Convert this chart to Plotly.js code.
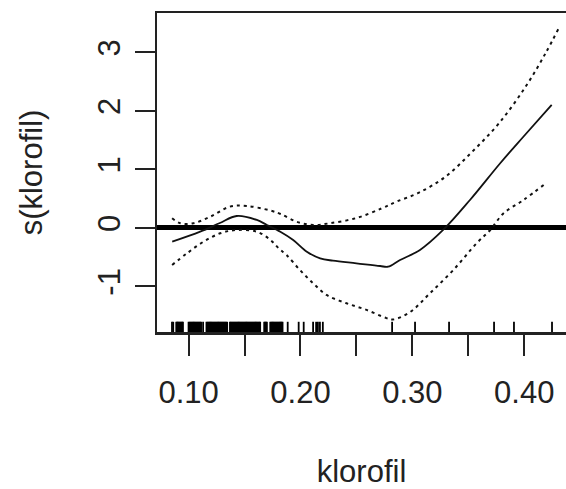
<!DOCTYPE html>
<html>
<head>
<meta charset="utf-8">
<script src="https://cdn.plot.ly/plotly-3.0.1.min.js"></script>
<style>html,body{margin:0;padding:0;background:#fff;overflow:hidden}#chart{width:566px;height:489px}</style>
</head>
<body>
<div id="chart"></div>
<script>
// Fitted smooth s(klorofil)
var fitX = [0.0854, 0.1104, 0.128, 0.143, 0.161, 0.170, 0.182, 0.1935, 0.2057, 0.2176, 0.229, 0.250, 0.2712, 0.2783, 0.289, 0.3068, 0.3275, 0.3515, 0.3783, 0.3986, 0.4245];
var fitY = [-0.234, -0.063, 0.085, 0.205, 0.137, 0.051, -0.063, -0.205, -0.405, -0.518, -0.559, -0.604, -0.650, -0.662, -0.547, -0.376, -0.034, 0.479, 1.103, 1.547, 2.103];
// Upper confidence band
var upX = [0.0853, 0.0927, 0.104, 0.1195, 0.137, 0.152, 0.1735, 0.1822, 0.1965, 0.2113, 0.226, 0.250, 0.2727, 0.2858, 0.3055, 0.3296, 0.3533, 0.3774, 0.4012, 0.4191, 0.4307];
var upY = [0.165, 0.080, 0.080, 0.194, 0.365, 0.376, 0.296, 0.239, 0.108, 0.051, 0.080, 0.170, 0.336, 0.450, 0.600, 0.877, 1.300, 1.790, 2.415, 2.990, 3.410];
// Lower confidence band
var loX = [0.0853, 0.0986, 0.1134, 0.1283, 0.1432, 0.161, 0.1732, 0.1806, 0.1875, 0.1995, 0.2114, 0.2233, 0.2412, 0.259, 0.2768, 0.2827, 0.2978, 0.3157, 0.3366, 0.3574, 0.3696, 0.3815, 0.3994, 0.4173];
var loY = [-0.632, -0.433, -0.234, -0.091, -0.034, -0.063, -0.205, -0.348, -0.460, -0.718, -0.946, -1.145, -1.287, -1.400, -1.540, -1.565, -1.440, -1.116, -0.718, -0.262, -0.034, 0.251, 0.479, 0.735];
// Rug: observed klorofil values
var rugX = [0.0852, 0.0863, 0.089, 0.0897, 0.0905, 0.0912, 0.092, 0.0927, 0.0935, 0.0942, 0.095,
  0.1000, 0.1008, 0.1016, 0.1024, 0.1032, 0.104, 0.1048, 0.1056, 0.1064, 0.1072, 0.108, 0.1088, 0.1096, 0.1104, 0.1112, 0.113,
  0.116, 0.1168, 0.1176, 0.1184, 0.1192, 0.12, 0.1208, 0.1216, 0.1224, 0.1232, 0.124, 0.1248, 0.1256, 0.1264, 0.1272, 0.128, 0.1288, 0.1296, 0.1304, 0.1312, 0.132, 0.1328, 0.1336, 0.1345,
  0.137, 0.1378, 0.1386, 0.1394, 0.1402, 0.141, 0.1418, 0.1426, 0.1434, 0.1442, 0.145, 0.1458, 0.1466, 0.1474, 0.1482, 0.149, 0.1498, 0.1506, 0.1514, 0.1522, 0.153, 0.1538, 0.1546, 0.1554, 0.1562, 0.157, 0.1578, 0.1586, 0.1594, 0.1602, 0.161, 0.1618, 0.1626, 0.1634, 0.164,
  0.1676, 0.1684, 0.1692, 0.170,
  0.173, 0.1738, 0.1746, 0.1754, 0.1762, 0.177, 0.1778, 0.1786, 0.1794, 0.1802, 0.181, 0.1818, 0.1826, 0.1834, 0.184,
  0.1886, 0.1984, 0.2029, 0.2113, 0.214, 0.2156, 0.2174, 0.220,
  0.2819, 0.3024, 0.3328, 0.3730, 0.3908, 0.4248];
var xTickVals = [0.10, 0.15, 0.20, 0.25, 0.30, 0.35, 0.40];
var xTickText = ['0.10', '', '0.20', '', '0.30', '', '0.40'];
var yTickVals = [-1, 0, 1, 2, 3];
var yTickText = ['-1', '0', '1', '2', '3'];
var xRange = [0.0718, 0.4373];
var yRange = [-1.778, 3.675];
var rugFrac = 0.032;

var rugXs = [], rugYs = [];
var rugTop = yRange[0] + (yRange[1] - yRange[0]) * rugFrac;
rugX.forEach(function (v) { rugXs.push(v, v, null); rugYs.push(yRange[0], rugTop, null); });

var FONT = '"Liberation Sans", Arial, sans-serif';
var FS = 31;
var traces = [
  {x: rugXs, y: rugYs, mode: 'lines', line: {color: '#000', width: 1.8}, hoverinfo: 'skip'},
  {x: upX, y: upY, mode: 'lines', line: {color: '#111', width: 2, dash: '3px,4px', shape: 'spline'}},
  {x: loX, y: loY, mode: 'lines', line: {color: '#111', width: 2, dash: '3px,4px', shape: 'spline'}},
  {x: fitX, y: fitY, mode: 'lines', line: {color: '#111', width: 1.8, shape: 'spline'}}
];
var layout = {
  width: 566, height: 489,
  margin: {l: 157, r: 0, t: 13, b: 157},
  showlegend: false,
  paper_bgcolor: '#fff', plot_bgcolor: '#fff',
  font: {family: FONT, size: FS, color: '#222'},
  xaxis: {
    range: xRange, tickmode: 'array', tickvals: xTickVals, ticktext: xTickText,
    ticks: 'outside', ticklen: 21, tickwidth: 2, tickcolor: '#222',
    showline: true, linecolor: '#222', linewidth: 2.5, mirror: true,
    showgrid: false, zeroline: false,
    tickfont: {family: FONT, size: FS, color: '#222'},
    ticklabelstandoff: 10,
    title: {text: 'klorofil', font: {family: FONT, size: FS, color: '#222'}, standoff: 62}
  },
  yaxis: {
    range: yRange, tickmode: 'array', tickvals: yTickVals, ticktext: yTickText,
    ticks: 'outside', ticklen: 20, tickwidth: 2, tickcolor: '#222', tickangle: -90,
    showline: true, linecolor: '#222', linewidth: 2.5, mirror: false,
    showgrid: false, zeroline: true, zerolinecolor: '#000', zerolinewidth: 5,
    tickfont: {family: FONT, size: FS, color: '#222'},
    ticklabelstandoff: 2,
    title: {text: 's(klorofil)', font: {family: FONT, size: FS, color: '#222'}, standoff: 40}
  }
};
Plotly.newPlot('chart', traces, layout, {staticPlot: true, displayModeBar: false});
</script>
</body>
</html>
